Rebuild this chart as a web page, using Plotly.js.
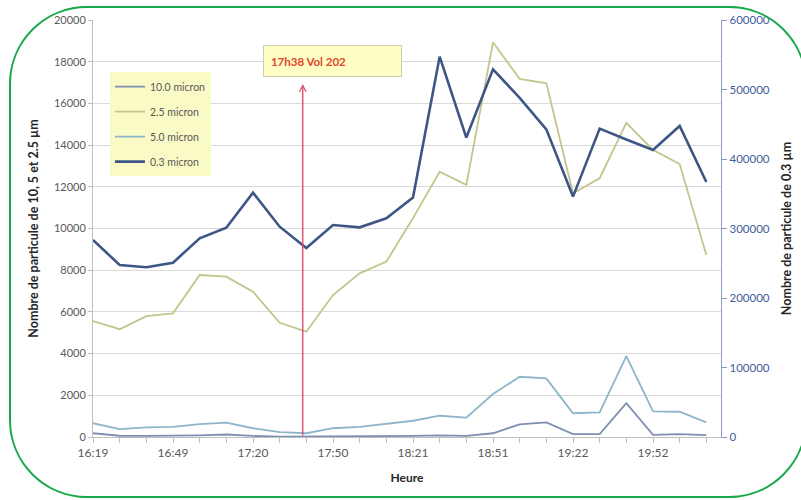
<!DOCTYPE html>
<html>
<head>
<meta charset="utf-8">
<script src="https://cdn.plot.ly/plotly-3.0.1.min.js"></script>
<style>
  html, body { margin: 0; padding: 0; background: #ffffff; overflow: hidden; }
  #wrap { position: relative; width: 801px; height: 500px; }
  #chart { position: absolute; left: 0; top: 0; width: 801px; height: 500px; }
  #frame { position: absolute; left: 9px; top: 6px; width: 798px; height: 492px;
           box-sizing: border-box; border: 2.5px solid #17a84b; border-radius: 78px;
           pointer-events: none; }
</style>
</head>
<body>
<div id="wrap">
  <div id="chart"></div>
  <div id="frame"></div>
</div>
<script>
// Category labels (time of measurement)
const times = ["16:19","16:29","16:39","16:49","16:59","17:09","17:20","17:30","17:40","17:50","18:00","18:10",
               "18:21","18:31","18:41","18:51","19:01","19:11","19:22","19:32","19:42","19:52","20:02","20:12"];
// Tick labels shown (every third category)
const shownLabels = ["16:19","16:49","17:20","17:50","18:21","18:51","19:22","19:52"];

// Series values (left axis)
const micron10 = [180, 60, 50, 60, 80, 120, 50, 20, 20, 30, 40, 50, 50, 80, 50, 180, 610, 700, 140, 140, 1620, 100, 140, 90];
const micron25 = [5560, 5170, 5800, 5930, 7770, 7690, 6970, 5480, 5050, 6810, 7850, 8410, 10500, 12720, 12090, 18930, 17170, 16960, 11690, 12410, 15070, 13770, 13090, 8730];
const micron50 = [660, 380, 460, 490, 620, 690, 420, 230, 180, 420, 490, 620, 780, 1020, 930, 2060, 2890, 2810, 1140, 1180, 3880, 1230, 1210, 700];
// Series values (right axis)
const micron03 = [283500, 247500, 244200, 250800, 285900, 301200, 351600, 302600, 271900, 305000, 301700, 314700,
                  344500, 547300, 430800, 529000, 488000, 442700, 345900, 443700, 428000, 413000, 447500, 366900];

const seriesNames = ["10.0 micron", "2.5 micron", "5.0 micron", "0.3 micron"];
const annotationText = "17h38 Vol 202";

const FONT = 'Lato, "Liberation Sans", Arial, sans-serif';

const traces = [
  {x: times, y: micron10, name: seriesNames[0], type: 'scatter', mode: 'lines', legendgroup: 'a',
   line: {color: '#7f8fb2', width: 1.8}},
  {x: times, y: micron25, name: seriesNames[1], type: 'scatter', mode: 'lines', legendgroup: 'b',
   line: {color: '#c2c58c', width: 1.8}},
  {x: times, y: micron50, name: seriesNames[2], type: 'scatter', mode: 'lines', legendgroup: 'c',
   line: {color: '#8db6c9', width: 1.8}},
  {x: times, y: micron03, name: seriesNames[3], type: 'scatter', mode: 'lines', legendgroup: 'd', yaxis: 'y2',
   line: {color: '#3d5686', width: 2.6}}
];

const tickText = times.map(t => shownLabels.includes(t) ? t : '');

const layout = {
  width: 801, height: 500,
  margin: {l: 93, r: 80, t: 20, b: 63},
  paper_bgcolor: '#ffffff', plot_bgcolor: '#ffffff',
  font: {family: FONT, size: 11, color: '#595959'},
  showlegend: true,
  legend: {
    x: 0.027, y: 0.875, xanchor: 'left', yanchor: 'top',
    bgcolor: '#fafac6', borderwidth: 0,
    font: {family: FONT, size: 10.5, color: '#595959'},
    tracegroupgap: 6, traceorder: 'grouped'
  },
  xaxis: {
    type: 'category',
    range: [0, 23.55],
    tickmode: 'array', tickvals: times, ticktext: tickText,
    ticks: 'outside', ticklen: 5, tickcolor: '#bfbfbf',
    showline: true, linecolor: '#bfbfbf', linewidth: 1,
    showgrid: false, zeroline: false,
    tickfont: {family: FONT, size: 12, color: '#595959'},
    title: {text: '<b>Heure</b>', font: {family: FONT, size: 12, color: '#262626'}, standoff: 14}
  },
  yaxis: {
    range: [0, 20000], dtick: 2000, tick0: 0, tickformat: 'd',
    showgrid: true, gridcolor: '#d9d9d9', gridwidth: 1,
    zeroline: false,
    showline: true, linecolor: '#bfbfbf', linewidth: 1,
    ticks: 'outside', ticklen: 4, tickcolor: '#bfbfbf',
    tickfont: {family: FONT, size: 11, color: '#595959'},
    title: {text: '<b>Nombre de particule de 10, 5 et 2.5 µm</b>', font: {family: FONT, size: 12.5, color: '#262626'}, standoff: 12}
  },
  yaxis2: {
    overlaying: 'y', side: 'right',
    range: [0, 600000], dtick: 100000, tick0: 0, tickformat: 'd',
    showgrid: false, zeroline: false,
    showline: true, linecolor: '#8a9bbd', linewidth: 1.2,
    ticks: 'outside', ticklen: 5, tickcolor: '#8a9bbd',
    tickfont: {family: FONT, size: 11.5, color: '#3f5e9c'},
    title: {text: '<b>Nombre de particule de 0.3 µm</b>', font: {family: FONT, size: 12.5, color: '#262626'}, standoff: 13}
  },
  annotations: [
    {
      xref: 'paper', yref: 'paper', x: 0.2707, y: 0.940, xanchor: 'left', yanchor: 'top',
      text: '&nbsp;&nbsp;<b>' + annotationText + '</b>', showarrow: false,
      font: {family: FONT, size: 11.5, color: '#e2452b'},
      align: 'left', width: 135, height: 28, borderpad: 1,
      bgcolor: '#fdfdc4', bordercolor: '#cfcfae', borderwidth: 1
    },
    {
      xref: 'paper', yref: 'paper', x: 0.334, y: 0.8465,
      text: '', showarrow: true, axref: 'pixel', ayref: 'pixel', ax: 0, ay: 353,
      arrowcolor: '#e0506c', arrowwidth: 1.4, arrowhead: 5, arrowsize: 0.9
    }
  ]
};

Plotly.newPlot('chart', traces, layout, {displayModeBar: false, staticPlot: true});
</script>
</body>
</html>
